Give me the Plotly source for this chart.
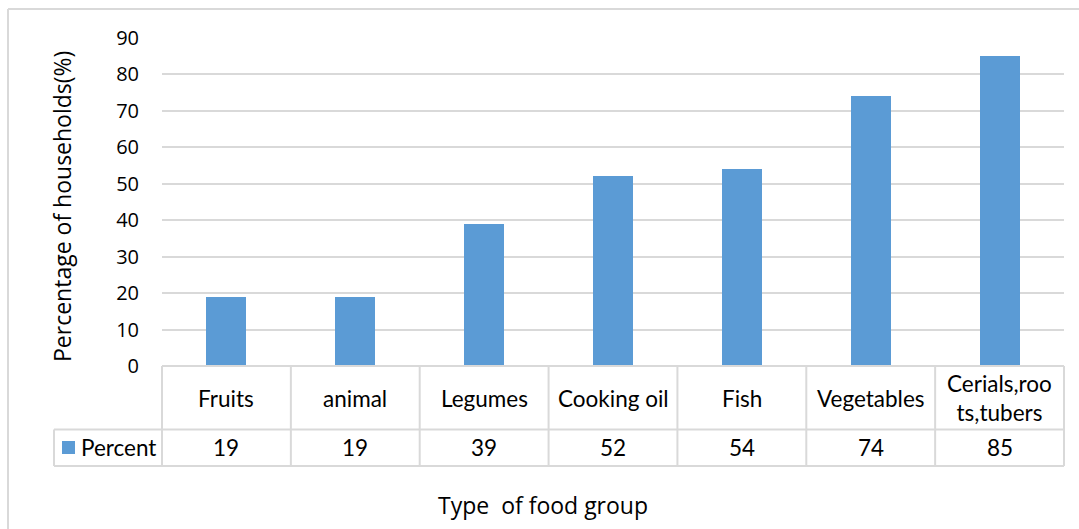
import plotly.graph_objects as go

# Food groups consumed and share of households (%)
categories = ["Fruits", "animal", "Legumes", "Cooking oil", "Fish", "Vegetables", "Cerials,roo<br>ts,tubers"]
percent = [19, 19, 39, 52, 54, 74, 85]
series_name = "Percent"
y_ticks = [0, 10, 20, 30, 40, 50, 60, 70, 80, 90]

BAR = "#5b9bd5"
GRID = "#d9d9d9"
W, H = 1079, 529
ML, MR, MT, MB = 162, 15, 38, 163
PW, PH = W - ML - MR, H - MT - MB
N = len(categories)


def px_x(px):
    return (px - ML) / PW


def px_y(py):
    return (H - MB - py) / PH


fig = go.Figure(
    go.Bar(
        x=list(range(N)),
        y=percent,
        name=series_name,
        marker=dict(color=BAR, line=dict(width=0)),
        width=0.31,
        showlegend=False,
        hoverinfo="skip",
    )
)

shapes = []
line = dict(color=GRID, width=2)
row_mid = 429.5
row_bot = 466
legend_left = 54

# chart frame (top and left edges)
shapes.append(dict(type="line", xref="paper", yref="paper",
                   x0=px_x(8), x1=px_x(W + 5), y0=px_y(9), y1=px_y(9), line=line))
shapes.append(dict(type="line", xref="paper", yref="paper",
                   x0=px_x(8), x1=px_x(8), y0=px_y(9), y1=px_y(H + 5), line=line))

# data table grid
shapes.append(dict(type="line", xref="paper", yref="paper",
                   x0=0, x1=1, y0=0, y1=0, line=line))
for yy in (row_mid, row_bot):
    shapes.append(dict(type="line", xref="paper", yref="paper",
                       x0=px_x(legend_left), x1=1, y0=px_y(yy), y1=px_y(yy), line=line))
for i in range(N + 1):
    shapes.append(dict(type="line", xref="paper", yref="paper",
                       x0=i / N, x1=i / N, y0=0, y1=px_y(row_bot), line=line))
shapes.append(dict(type="line", xref="paper", yref="paper",
                   x0=px_x(legend_left), x1=px_x(legend_left),
                   y0=px_y(row_mid), y1=px_y(row_bot), line=line))

# legend key square
shapes.append(dict(type="rect", xref="paper", yref="paper",
                   x0=px_x(62), x1=px_x(75), y0=px_y(441), y1=px_y(454),
                   fillcolor=BAR, line=dict(width=0)))

table_font = dict(family="Lato", size=22.5, color="#000000")
annotations = []
for i, (cat, val) in enumerate(zip(categories, percent)):
    annotations.append(dict(x=i, xref="x", y=px_y(398), yref="paper", text=cat,
                            showarrow=False, font=table_font, xanchor="center",
                            yanchor="middle", align="center"))
    annotations.append(dict(x=i, xref="x", y=px_y(447), yref="paper", text=str(val),
                            showarrow=False, font=table_font, xanchor="center",
                            yanchor="middle"))
annotations.append(dict(x=px_x(79), xref="paper", y=px_y(447), yref="paper",
                        text=series_name, showarrow=False, font=table_font,
                        xanchor="left", yanchor="middle"))

title_font = dict(family="Open Sans", size=23, color="#000000")
annotations.append(dict(x=px_x(62), xref="paper", y=px_y(207), yref="paper",
                        text="Percentage of households(%)", textangle=-90,
                        showarrow=False, font=title_font,
                        xanchor="center", yanchor="middle"))
annotations.append(dict(x=px_x(543), xref="paper", y=px_y(505), yref="paper",
                        text="Type\u00a0 of food group", showarrow=False,
                        font=title_font, xanchor="center", yanchor="middle"))

fig.update_layout(
    width=W,
    height=H,
    margin=dict(l=ML, r=MR, t=MT, b=MB, pad=0),
    paper_bgcolor="#ffffff",
    plot_bgcolor="#ffffff",
    shapes=shapes,
    annotations=annotations,
    bargap=0,
    xaxis=dict(range=[-0.5, N - 0.5], showticklabels=False, showgrid=False,
               zeroline=False, showline=False, ticks="", fixedrange=True),
    yaxis=dict(range=[0, 90], tickvals=y_ticks, showgrid=True, gridcolor=GRID,
               gridwidth=2, zeroline=False, showline=False, ticks="",
               ticklabelstandoff=22,
               tickfont=dict(family="Open Sans", size=20, color="#000000"),
               fixedrange=True),
)

fig.write_html("out.html", config={"displayModeBar": False})
